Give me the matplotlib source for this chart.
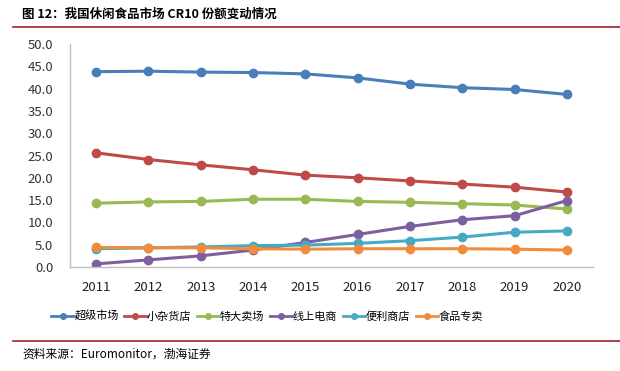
import matplotlib
matplotlib.use('Agg')
import matplotlib.pyplot as plt
from matplotlib.lines import Line2D
import numpy as np

plt.rcParams['font.family'] = ['Noto Sans CJK SC', 'DejaVu Sans']

years = ['2011', '2012', '2013', '2014', '2015', '2016', '2017', '2018', '2019', '2020']
supermarket = [43.8, 43.9, 43.7, 43.6, 43.3, 42.4, 41.0, 40.2, 39.8, 38.7]
grocery = [25.6, 24.1, 22.9, 21.8, 20.6, 20.0, 19.3, 18.6, 17.9, 16.8]
hypermarket = [14.3, 14.6, 14.7, 15.2, 15.2, 14.7, 14.5, 14.2, 13.9, 13.0]
online = [0.7, 1.6, 2.5, 3.8, 5.5, 7.3, 9.1, 10.6, 11.5, 14.9]
convenience = [4.1, 4.3, 4.5, 4.8, 4.9, 5.3, 5.9, 6.7, 7.8, 8.1]
food_special = [4.4, 4.3, 4.3, 4.1, 4.0, 4.1, 4.1, 4.1, 4.0, 3.8]

series = [
    ('超级市场', supermarket, '#4A7EBB'),
    ('小杂货店', grocery, '#BE4B48'),
    ('特大卖场', hypermarket, '#98B954'),
    ('线上电商', online, '#7D5FA0'),
    ('便利商店', convenience, '#46AAC5'),
    ('食品专卖', food_special, '#F08C3C'),
]

fig = plt.figure(figsize=(6.2, 3.71), dpi=100)
ax = fig.add_axes([0.1129, 0.2803, 0.8436, 0.6011])

x = np.arange(len(years))
handles = []
for name, vals, col in series:
    ax.plot(x, vals, '-o', color=col, lw=2.2, markersize=6)
    handles.append(Line2D([], [], color=col, lw=2, marker='o', markersize=4, label=name))

ax.set_xlim(-0.5, len(years) - 0.5)
ax.set_ylim(0, 50)
ax.set_yticks(np.arange(0, 50.1, 5))
ax.set_yticklabels(['%.1f' % v for v in np.arange(0, 50.1, 5)], fontsize=9.5, color='#333333')
ax.set_xticks(x)
ax.set_xticklabels(years, fontsize=9.5, color='#222222')
ax.tick_params(length=0, pad=10)
ax.tick_params(axis='y', pad=12)
for s in ['top', 'right']:
    ax.spines[s].set_visible(False)
for s in ['left', 'bottom']:
    ax.spines[s].set_color('#BFBFBF')
    ax.spines[s].set_linewidth(1.0)

fig.legend(handles=handles, loc='center', bbox_to_anchor=(0.431, 0.148), ncol=6, frameon=False,
           handlelength=2.0, handletextpad=0.05, columnspacing=0.5,
           prop={'size': 8})

fig.text(0.035, 0.962, '图 12：我国休闲食品市场 CR10 份额变动情况', fontsize=9,
         fontweight='bold', va='center', ha='left')
fig.add_artist(Line2D([0.021, 1.0], [0.928, 0.928], color='#A0202A', lw=1.2))
fig.add_artist(Line2D([0.021, 1.0], [0.081, 0.081], color='#A0202A', lw=1.2))
fig.text(0.036, 0.045, '资料来源：Euromonitor，渤海证券', fontsize=8.5, style='italic',
         va='center', ha='left')

fig.savefig('out.png', dpi=100)
